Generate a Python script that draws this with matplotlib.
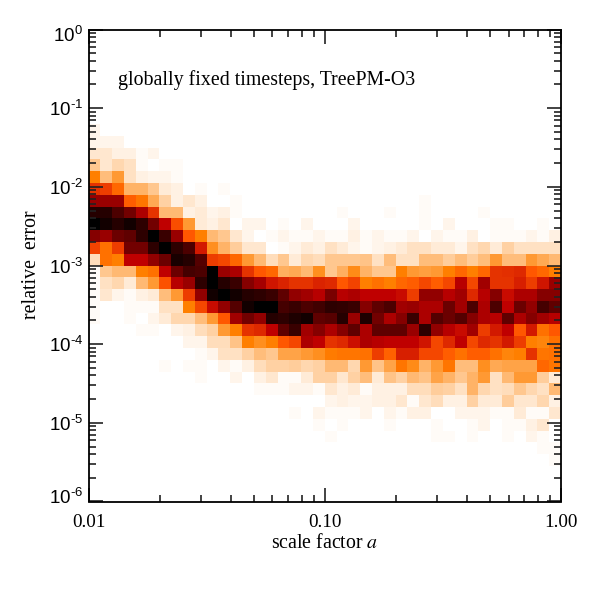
import numpy as np
import matplotlib
matplotlib.use("Agg")
import matplotlib.pyplot as plt
from matplotlib.transforms import ScaledTranslation

plt.rcParams['font.family'] = ['Liberation Sans', 'DejaVu Sans']
plt.rcParams['mathtext.fontset'] = 'custom'
plt.rcParams['mathtext.rm'] = 'Liberation Sans'
plt.rcParams['mathtext.it'] = 'Liberation Sans:italic'
plt.rcParams['mathtext.bf'] = 'Liberation Sans:bold'

N_BINS = 40
TITLE = "globally fixed timesteps, TreePM-O3"
X_LABEL = "scale factor "
Y_LABEL = "relative  error"
X_TICKS = [0.01, 0.1, 1.0]
X_TICK_LABELS = ["0.01", "0.10", "1.00"]
Y_EXPONENTS = [0, -1, -2, -3, -4, -5, -6]
Y_LABEL_SHIFT_PX = {0: -4, -6: 6}

# Shading of each histogram cell (percent of the darkest), keyed by row from the top
density_rows = {
    8:  [2],
    9:  [2, 2, 2],
    10: [5, 5, 3, 3, 1, 2],
    11: [11, 5, 8, 6, 1, 0, 1, 1],
    12: [25, 13, 20, 6, 3, 2, 2, 1],
    13: [40, 38, 30, 15, 15, 11, 4, 3, 0, 1, 0, 1],
    14: [60, 60, 60, 32, 27, 17, 9, 3, 5, 3, 0, 0, 1, 0, 0, 0, 0, 0, 0, 0, 0, 0, 0, 0, 0, 0, 0, 0, 1],
    15: [90, 90, 80, 70, 55, 40, 14, 14, 3, 4, 2, 3, 1, 0, 0, 0, 0, 0, 0, 0, 0, 1, 0, 0, 0, 1, 0, 0, 1, 0, 0, 0, 0, 1],
    16: [100, 95, 90, 95, 88, 70, 50, 35, 20, 4, 3, 5, 0, 2, 2, 0, 1, 0, 2, 0, 0, 0, 2, 0, 0, 0, 0, 0, 1, 0, 2, 0, 0, 0, 1, 1, 0, 0, 1, 0],
    17: [65, 60, 72, 75, 88, 100, 85, 60, 33, 25, 14, 11, 5, 2, 0, 1, 2, 1, 1, 2, 1, 1, 3, 1, 2, 1, 1, 2, 0, 2, 1, 1, 3, 0, 1, 1, 1, 2, 1, 3],
    18: [37, 28, 38, 70, 70, 88, 100, 88, 80, 45, 22, 15, 10, 5, 5, 0, 1, 2, 4, 3, 6, 4, 2, 1, 2, 3, 4, 6, 6, 4, 4, 2, 6, 8, 4, 9, 6, 6, 6, 6],
    19: [7, 28, 25, 50, 50, 62, 72, 93, 90, 78, 38, 36, 30, 20, 14, 7, 11, 4, 8, 7, 11, 11, 11, 12, 6, 13, 6, 6, 13, 13, 10, 13, 10, 13, 20, 13, 13, 20, 17, 14],
    20: [1, 11, 14, 14, 25, 28, 50, 72, 82, 80, 100, 60, 55, 40, 33, 30, 16, 17, 14, 22, 11, 16, 23, 15, 11, 11, 25, 20, 19, 20, 25, 30, 25, 30, 40, 41, 42, 33, 30, 25],
    21: [1, 6, 8, 4, 14, 20, 34, 52, 60, 88, 100, 90, 85, 65, 57, 46, 43, 40, 40, 43, 42, 33, 37, 25, 28, 25, 30, 32, 36, 32, 36, 52, 36, 58, 40, 40, 44, 38, 46, 60],
    22: [1, 5, 2, 1, 3, 4, 13, 20, 38, 62, 95, 100, 95, 90, 88, 85, 75, 62, 58, 52, 68, 52, 55, 50, 50, 50, 48, 38, 62, 62, 52, 58, 42, 52, 65, 48, 55, 55, 65, 65],
    23: [1, 0, 0, 1, 1, 1, 6, 6, 25, 36, 48, 62, 78, 95, 100, 100, 82, 85, 80, 83, 88, 87, 85, 65, 75, 80, 58, 60, 55, 55, 72, 58, 80, 55, 80, 50, 72, 62, 82, 75],
    24: [1, 0, 0, 1, 0, 2, 4, 8, 8, 13, 20, 33, 58, 70, 62, 90, 88, 92, 95, 75, 77, 90, 60, 92, 70, 55, 65, 85, 55, 78, 72, 78, 65, 55, 52, 75, 55, 65, 58, 52],
    25: [0, 0, 0, 0, 1, 1, 0, 2, 3, 7, 9, 20, 25, 40, 42, 50, 75, 85, 58, 65, 55, 65, 75, 55, 75, 75, 75, 60, 88, 62, 52, 48, 58, 38, 45, 50, 33, 45, 28, 33],
    26: [0, 0, 0, 0, 0, 0, 0, 0, 2, 2, 7, 7, 12, 25, 22, 25, 33, 36, 55, 50, 40, 42, 47, 55, 52, 50, 50, 50, 46, 36, 42, 50, 36, 42, 40, 45, 38, 25, 24, 28],
    27: [0, 0, 0, 0, 0, 0, 0, 0, 0, 1, 2, 6, 6, 9, 13, 11, 18, 18, 20, 22, 26, 27, 27, 28, 38, 31, 44, 44, 36, 36, 32, 28, 32, 32, 28, 24, 25, 40, 27, 28],
    28: [0, 0, 0, 0, 0, 0, 1, 0, 1, 1, 0, 2, 1, 3, 7, 9, 9, 10, 8, 9, 14, 14, 8, 20, 12, 18, 27, 23, 15, 20, 27, 13, 13, 22, 17, 18, 18, 18, 30, 27],
    29: [0, 0, 0, 0, 0, 0, 0, 0, 0, 1, 0, 0, 2, 0, 3, 5, 1, 1, 4, 9, 9, 5, 9, 13, 4, 12, 9, 14, 12, 18, 15, 11, 15, 20, 6, 14, 20, 20, 10, 4],
    30: [0, 0, 0, 0, 0, 0, 0, 0, 0, 0, 0, 0, 0, 0, 1, 1, 1, 2, 2, 1, 5, 3, 4, 1, 3, 3, 3, 7, 7, 10, 9, 6, 15, 8, 6, 7, 11, 8, 6, 14],
    31: [0, 0, 0, 0, 0, 0, 0, 0, 0, 0, 0, 0, 0, 0, 0, 0, 0, 0, 0, 0, 2, 3, 2, 2, 3, 3, 5, 1, 5, 7, 3, 3, 9, 4, 4, 10, 5, 5, 8, 3],
    32: [0, 0, 0, 0, 0, 0, 0, 0, 0, 0, 0, 0, 0, 0, 0, 0, 0, 1, 0, 2, 1, 1, 1, 2, 0, 2, 1, 3, 3, 0, 0, 2, 2, 2, 1, 1, 4, 1, 1, 5],
    33: [0, 0, 0, 0, 0, 0, 0, 0, 0, 0, 0, 0, 0, 0, 0, 0, 0, 0, 0, 1, 0, 1, 0, 0, 0, 1, 0, 0, 0, 1, 0, 0, 1, 2, 0, 1, 1, 3, 5, 0],
    34: [0, 0, 0, 0, 0, 0, 0, 0, 0, 0, 0, 0, 0, 0, 0, 0, 0, 0, 0, 0, 1, 0, 0, 0, 0, 0, 0, 0, 0, 1, 1, 0, 1, 0, 0, 1, 0, 2, 1, 0],
    35: [0, 0, 0, 0, 0, 0, 0, 0, 0, 0, 0, 0, 0, 0, 0, 0, 0, 0, 0, 0, 0, 0, 0, 0, 0, 0, 0, 0, 0, 0, 0, 0, 0, 0, 0, 0, 0, 0, 1, 1],
    36: [0, 0, 0, 0, 0, 0, 0, 0, 0, 0, 0, 0, 0, 0, 0, 0, 0, 0, 0, 0, 0, 0, 0, 0, 0, 0, 0, 0, 0, 0, 0, 0, 0, 0, 0, 0, 0, 0, 0, 1],
}

density = np.zeros((N_BINS, N_BINS))
for row, values in density_rows.items():
    density[row, :len(values)] = values

x_edges = np.logspace(-2, 0, N_BINS + 1)
y_edges = np.logspace(0, -6, N_BINS + 1)

fig = plt.figure(figsize=(5.91, 5.91), dpi=100)
ax = fig.add_axes([88.5 / 591, 1 - 501.5 / 591, 472.5 / 591, 472 / 591])
ax.pcolormesh(x_edges, y_edges, density, cmap='gist_heat_r', vmin=0, vmax=100,
              shading='flat', antialiased=False, rasterized=True)
ax.set_xscale('log')
ax.set_yscale('log')
ax.set_xlim(0.01, 1.0)
ax.set_ylim(1e-6, 1.0)

for s in ax.spines.values():
    s.set_linewidth(1.3)

ax.set_xticks(X_TICKS)
ax.set_xticklabels(X_TICK_LABELS, family='Liberation Serif', fontsize=13.8)
ax.set_yticks([10.0 ** e for e in Y_EXPONENTS])
ax.set_yticklabels([r'$\mathregular{10^{\text{-}%d}}$' % -e if e else r'$\mathregular{10^{0}}$'
                    for e in Y_EXPONENTS], fontsize=13.5)
ax.xaxis.set_minor_locator(matplotlib.ticker.LogLocator(10, subs=np.arange(2, 10), numticks=20))
ax.yaxis.set_minor_locator(matplotlib.ticker.LogLocator(10, subs=np.arange(2, 10), numticks=20))
ax.xaxis.set_minor_formatter(matplotlib.ticker.NullFormatter())
ax.yaxis.set_minor_formatter(matplotlib.ticker.NullFormatter())
ax.tick_params(axis='both', which='major', direction='in', length=10, width=1.2, color='#222222')
ax.tick_params(axis='both', which='minor', direction='in', length=5, width=1.2, color='#222222')
ax.tick_params(axis='y', which='both', left=True, right=True)
ax.tick_params(axis='x', which='both', top=True, bottom=True, pad=9)
ax.tick_params(axis='y', which='major', pad=4)

for exponent, label in zip(Y_EXPONENTS, ax.get_yticklabels()):
    shift = Y_LABEL_SHIFT_PX.get(exponent, 0)
    label.set_transform(label.get_transform() + ScaledTranslation(0, shift / 100, fig.dpi_scale_trans))

fig.text(118 / 591, 1 - 80 / 591, TITLE, family='Liberation Serif', fontsize=14.3, va='center', ha='left')
fig.text(325 / 591, 1 - 543 / 591, X_LABEL + r'$\mathit{a}$', family='Liberation Serif',
         fontsize=14.3, va='center', ha='center', math_fontfamily='stix')
fig.text(31 / 591, 1 - 265 / 591, Y_LABEL, family='Liberation Serif', fontsize=14.3,
         rotation=90, va='center', ha='center')

fig.savefig('out.png', dpi=100)
